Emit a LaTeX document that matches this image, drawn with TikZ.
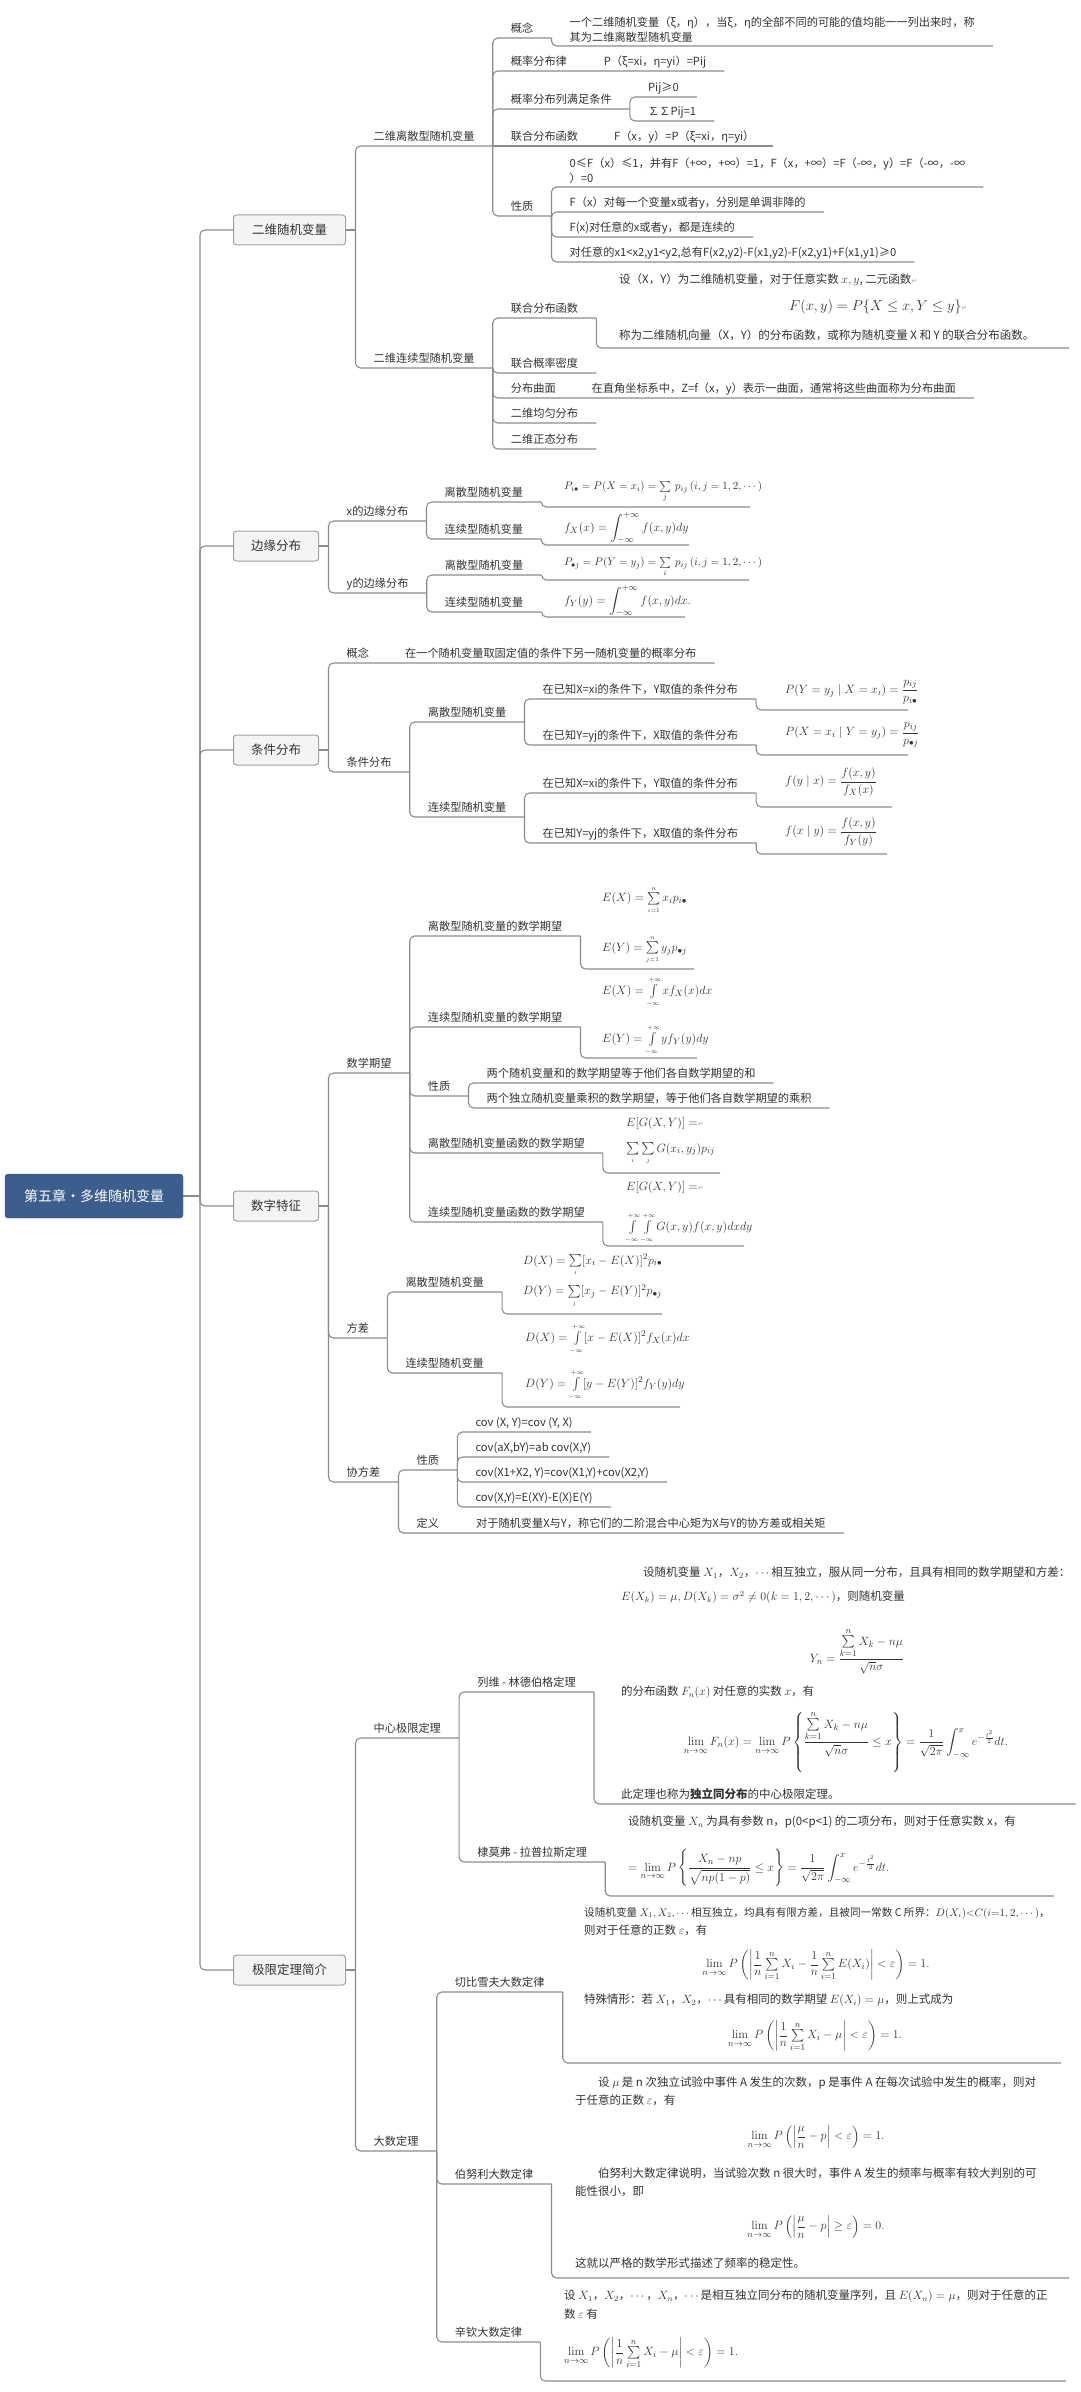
\documentclass[tikz,border=0pt]{standalone}
\usepackage{amsmath,amssymb}
\usepackage[no-math]{fontspec}
\setmainfont{Noto Sans CJK SC}
\newfontfamily\djvfont{DejaVu Sans}
\definecolor{lnc}{HTML}{8C8C8C}
\definecolor{boxd}{HTML}{A0A0A0}
\definecolor{boxf}{HTML}{F4F4F4}
\definecolor{rootc}{HTML}{3B5E8C}
\definecolor{txc}{HTML}{333333}
\newcommand\fLab{\fontsize{11.2}{15}\selectfont}
\newcommand\fCnt{\fontsize{11.5}{15}\selectfont}
\newcommand\fMth{\fontsize{12.5}{15}\selectfont}
\newcommand\fMsm{\fontsize{11}{13}\selectfont}
\newcommand\fBox{\fontsize{12.5}{15}\selectfont}
\newcommand\fRoot{\fontsize{14}{16}\selectfont}
\newcommand\ssl[1]{{\scriptscriptstyle #1}}
\newcommand\parmk{{\djvfont\color{gray!70}\fontsize{7}{7}\selectfont ↵}}
\tikzset{
  ln/.style={draw=lnc, line width=1.1pt, rounded corners=5pt},
  lbl/.style={anchor=south west, inner xsep=18pt, inner ysep=0pt, text height=8pt, text depth=5pt, font=\fLab, text=txc},
  lblm/.style={anchor=south west, inner xsep=18pt, inner ysep=3.5pt, align=left, font=\fLab, text=txc},
  cl/.style={anchor=west, inner sep=0pt, font=\fCnt, text=txc},
  fm/.style={anchor=west, inner sep=0pt, font=\fMth, text=txc},
  fmc/.style={anchor=center, inner sep=0pt, font=\fMth, text=txc},
  l1box/.style={anchor=west, draw=boxd, fill=boxf, rounded corners=3pt, minimum height=30pt, inner sep=0pt, font=\fBox, text=txc, line width=1pt},
  rootnode/.style={fill=rootc, draw=rootc, rounded corners=3pt, minimum width=178pt, minimum height=44pt, inner sep=0pt, text=white, font=\fRoot}
}
\begin{document}
\begin{tikzpicture}[x=1pt,y=-1pt]
\fill[white] (0,0) rectangle (1080,2392);
\useasboundingbox (0,0) rectangle (1080,2392);

% ---------- root and level 1 ----------
\node[rootnode] (root) at (94,1196) {第五章·多维随机变量};
\coordinate (T) at (200,1196);
\node[l1box, minimum width=112pt] (b1) at (233,230) {二维随机变量};
\node[l1box, minimum width=85pt] (b2) at (233,546) {边缘分布};
\node[l1box, minimum width=85pt] (b3) at (233,750) {条件分布};
\node[l1box, minimum width=85pt] (b4) at (233,1206) {数字特征};
\node[l1box, minimum width=112pt] (b5) at (233,1970) {极限定理简介};
\draw[ln] (root.east) -- (T);
\foreach \b in {b1,b2,b3,b4,b5} \draw[ln] (T) |- (\b.west);
\foreach \b in {b1,b2,b3,b4,b5} {
  \coordinate (\b j) at ([xshift=9.5pt]\b.east);
  \draw[ln] (\b.east) -- (\b j);
}

% ---------- branch 1 ----------
\node[lbl] (LD) at (b1j |- 0,146) {二维离散型随机变量};
\node[lbl] (LC) at (b1j |- 0,368) {二维连续型随机变量};
\draw[ln] (b1j) |- (LD.south east);
\draw[ln] (b1j) |- (LC.south east);

\node[lbl] (D1) at (LD.south east |- 0,38) {概念};
\node[lbl] (D2) at (LD.south east |- 0,71) {概率分布律\hspace{37pt}P（ξ=xi，η=yi）=Pij};
\node[lbl] (D3) at (LD.south east |- 0,109) {概率分布列满足条件};
\node[lbl] (D4) at (LD.south east |- 0,146) {联合分布函数\hspace{36pt}F（x，y）=P（ξ=xi，η=yi）};
\node[lbl] (D5) at (LD.south east |- 0,216) {性质};
\foreach \n in {D1,D2,D3,D5} \draw[ln] (LD.south east) |- (\n.south east);
\draw[ln] (LD.south east) -- (D4.south east);

\node[lblm] (D1c) at (D1.south east |- 0,46) {一个二维随机变量（ξ，η），当ξ，η的全部不同的可能的值均能一一列出来时，称\\其为二维离散型随机变量};
\draw[ln] (D1.south east) |- (D1c.south east);

\node[lbl] (D31) at (D3.south east |- 0,97) {Pij≥0};
\node[lbl] (D32) at (D3.south east |- 0,121) {∑∑Pij=1};
\draw[ln] (D3.south east) |- (D31.south east);
\draw[ln] (D3.south east) |- (D32.south east);

\node[lblm] (D51) at (D5.south east |- 0,187) {0≤F（x）≤1，并有F（+∞，+∞）=1，F（x，+∞）=F（-∞，y）=F（-∞，-∞\\）=0};
\node[lbl] (D52) at (D5.south east |- 0,212) {F（x）对每一个变量x或者y，分别是单调非降的};
\node[lbl] (D53) at (D5.south east |- 0,237) {F(x)对任意的x或者y，都是连续的};
\node[lbl] (D54) at (D5.south east |- 0,262) {对任意的x1<x2,y1<y2,总有F(x2,y2)-F(x1,y2)-F(x2,y1)+F(x1,y1)≥0};
\foreach \n in {D51,D52,D53,D54} \draw[ln] (D5.south east) |- (\n.south east);

\node[lbl] (C1) at (LC.south east |- 0,318) {联合分布函数};
\node[lbl] (C2) at (LC.south east |- 0,373) {联合概率密度};
\node[lbl] (C3) at (LC.south east |- 0,398) {分布曲面\hspace{36pt}在直角坐标系中，Z=f（x，y）表示一曲面，通常将这些曲面称为分布曲面};
\node[lbl] (C4) at (LC.south east |- 0,423) {二维均匀分布};
\node[lbl] (C5) at (LC.south east |- 0,449) {二维正态分布};
\foreach \n in {C1,C2,C3,C4,C5} \draw[ln] (LC.south east) |- (\n.south east);

\node[cl] (C1a) at (619,280) {设（X，Y）为二维随机变量，对于任意实数 $x,y$, 二元函数\parmk};
\node[fm, font=\fontsize{14}{16}\selectfont] (C1b) at (789,307) {$F(x,y)=P\{X\le x,Y\le y\}$\parmk};
\node[cl] (C1c) at (619,335) {称为二维随机向量（X，Y）的分布函数，或称为随机变量 X 和 Y 的联合分布函数。};
\coordinate (C1u) at (1069,348);
\draw[ln] (C1.south east) |- (C1u);

% ---------- branch 2 ----------
\node[lbl] (M1) at (b2j |- 0,521) {x的边缘分布};
\node[lbl] (M2) at (b2j |- 0,593) {y的边缘分布};
\draw[ln] (b2j) |- (M1.south east);
\draw[ln] (b2j) |- (M2.south east);
\node[lbl] (M11) at (M1.south east |- 0,502) {离散型随机变量};
\node[lbl] (M12) at (M1.south east |- 0,539) {连续型随机变量};
\node[lbl] (M21) at (M2.south east |- 0,575) {离散型随机变量};
\node[lbl] (M22) at (M2.south east |- 0,612) {连续型随机变量};
\draw[ln] (M1.south east) |- (M11.south east);
\draw[ln] (M1.south east) |- (M12.south east);
\draw[ln] (M2.south east) |- (M21.south east);
\draw[ln] (M2.south east) |- (M22.south east);

\node[fm, font=\fMsm] (M11f) at (564,492) {$P_{i\bullet}=P(X=x_i)=\sum\limits_{j}\ p_{ij}\,(i,j=1,2,\cdots)$};
\node[fm] (M12f) at (564,528) {$f_X(x)=\displaystyle\int_{-\infty}^{+\infty}f(x,y)dy$};
\node[fm, font=\fMsm] (M21f) at (564,567) {$P_{\bullet j}=P(Y=y_j)=\sum\limits_{i}\ p_{ij}\,(i,j=1,2,\cdots)$};
\node[fm] (M22f) at (564,601) {$f_Y(y)=\displaystyle\int_{-\infty}^{+\infty}f(x,y)dx.$};
\coordinate (M11u) at (750,507);
\coordinate (M12u) at (689,545);
\coordinate (M21u) at (749,580);
\coordinate (M22u) at (685,617);
\draw[ln] (M11.south east) |- (M11u);
\draw[ln] (M12.south east) |- (M12u);
\draw[ln] (M21.south east) |- (M21u);
\draw[ln] (M22.south east) |- (M22u);

% ---------- branch 3 ----------
\node[lbl] (K1) at (b3j |- 0,663) {概念\hspace{36pt}在一个随机变量取固定值的条件下另一随机变量的概率分布};
\node[lbl] (K2) at (b3j |- 0,772) {条件分布};
\draw[ln] (b3j) |- (K1.south east);
\draw[ln] (b3j) |- (K2.south east);
\node[lbl] (K21) at (K2.south east |- 0,722) {离散型随机变量};
\node[lbl] (K22) at (K2.south east |- 0,817) {连续型随机变量};
\draw[ln] (K2.south east) |- (K21.south east);
\draw[ln] (K2.south east) |- (K22.south east);
\node[lbl] (K211) at (K21.south east |- 0,699) {在已知X=xi的条件下，Y取值的条件分布};
\node[lbl] (K212) at (K21.south east |- 0,745) {在已知Y=yj的条件下，X取值的条件分布};
\node[lbl] (K221) at (K22.south east |- 0,793) {在已知X=xi的条件下，Y取值的条件分布};
\node[lbl] (K222) at (K22.south east |- 0,843) {在已知Y=yj的条件下，X取值的条件分布};
\draw[ln] (K21.south east) |- (K211.south east);
\draw[ln] (K21.south east) |- (K212.south east);
\draw[ln] (K22.south east) |- (K221.south east);
\draw[ln] (K22.south east) |- (K222.south east);

\node[fm] (K211f) at (785,692) {$P(Y=y_j\mid X=x_i)=\dfrac{p_{ij}}{p_{i\bullet}}$};
\node[fm] (K212f) at (785,735) {$P(X=x_i\mid Y=y_j)=\dfrac{p_{ij}}{p_{\bullet j}}$};
\node[fm] (K221f) at (785,782) {$f(y\mid x)=\dfrac{f(x,y)}{f_X(x)}$};
\node[fm] (K222f) at (785,832) {$f(x\mid y)=\dfrac{f(x,y)}{f_Y(y)}$};
\coordinate (K211u) at (908,710);
\coordinate (K212u) at (908,755);
\coordinate (K221u) at (892,807);
\coordinate (K222u) at (887,854);
\draw[ln] (K211.south east) |- (K211u);
\draw[ln] (K212.south east) |- (K212u);
\draw[ln] (K221.south east) |- (K221u);
\draw[ln] (K222.south east) |- (K222u);

% ---------- branch 4 ----------
\node[lbl] (E1) at (b4j |- 0,1073) {数学期望};
\node[lbl] (E2) at (b4j |- 0,1338) {方差};
\node[lbl] (E3) at (b4j |- 0,1482) {协方差};
\foreach \n in {E1,E2,E3} \draw[ln] (b4j) |- (\n.south east);

\node[lbl] (E11) at (E1.south east |- 0,936) {离散型随机变量的数学期望};
\node[lbl] (E12) at (E1.south east |- 0,1027) {连续型随机变量的数学期望};
\node[lbl] (E13) at (E1.south east |- 0,1096) {性质};
\node[lbl] (E14) at (E1.south east |- 0,1153) {离散型随机变量函数的数学期望};
\node[lbl] (E15) at (E1.south east |- 0,1222) {连续型随机变量函数的数学期望};
\foreach \n in {E11,E12,E13,E14,E15} \draw[ln] (E1.south east) |- (\n.south east);

\node[fm] (E11a) at (602,900) {$E(X)=\sum\limits_{\ssl{i=1}}^{\ssl{n}}x_ip_{i\bullet}$};
\node[fm] (E11b) at (602,950) {$E(Y)=\sum\limits_{\ssl{j=1}}^{\ssl{n}}y_jp_{\bullet j}$};
\node[fm] (E12a) at (602,992) {$E(X)=\int\limits_{\ssl{-\infty}}^{\ssl{+\infty}}xf_X(x)dx$};
\node[fm] (E12b) at (602,1040) {$E(Y)=\int\limits_{\ssl{-\infty}}^{\ssl{+\infty}}yf_Y(y)dy$};
\coordinate (E11u) at (694,969);
\coordinate (E12u) at (697,1058);
\draw[ln] (E11.south east) |- (E11u);
\draw[ln] (E12.south east) |- (E12u);

\node[lbl] (E131) at (E13.south east |- 0,1083) {两个随机变量和的数学期望等于他们各自数学期望的和};
\node[lbl] (E132) at (E13.south east |- 0,1108) {两个独立随机变量乘积的数学期望，等于他们各自数学期望的乘积};
\draw[ln] (E13.south east) |- (E131.south east);
\draw[ln] (E13.south east) |- (E132.south east);

\node[fm] (E14a) at (626,1123) {$E[G(X,Y)]=$\parmk};
\node[fm] (E14b) at (626,1154) {$\sum\limits_{\ssl{i}}\sum\limits_{\ssl{j}}G(x_i,y_j)p_{ij}$};
\node[fm] (E15a) at (626,1187) {$E[G(X,Y)]=$\parmk};
\node[fm] (E15b) at (626,1228) {$\int\limits_{\ssl{-\infty}}^{\ssl{+\infty}}\int\limits_{\ssl{-\infty}}^{\ssl{+\infty}}G(x,y)f(x,y)dxdy$};
\coordinate (E14u) at (720,1173);
\coordinate (E15u) at (744,1246);
\draw[ln] (E14.south east) |- (E14u);
\draw[ln] (E15.south east) |- (E15u);

\node[lbl] (E21) at (E2.south east |- 0,1292) {离散型随机变量};
\node[lbl] (E22) at (E2.south east |- 0,1373) {连续型随机变量};
\draw[ln] (E2.south east) |- (E21.south east);
\draw[ln] (E2.south east) |- (E22.south east);
\node[fm] (E21a) at (523,1265) {$D(X)=\sum\limits_{\ssl{i}}[x_i-E(X)]^2p_{i\bullet}$};
\node[fm] (E21b) at (523,1296) {$D(Y)=\sum\limits_{\ssl{j}}[x_j-E(Y)]^2p_{\bullet j}$};
\node[fm] (E22a) at (525,1339) {$D(X)=\int\limits_{\ssl{-\infty}}^{\ssl{+\infty}}[x-E(X)]^2f_X(x)dx$};
\node[fm] (E22b) at (525,1385) {$D(Y)=\int\limits_{\ssl{-\infty}}^{\ssl{+\infty}}[y-E(Y)]^2f_Y(y)dy$};
\coordinate (E21u) at (662,1314);
\coordinate (E22u) at (680,1407);
\draw[ln] (E21.south east) |- (E21u);
\draw[ln] (E22.south east) |- (E22u);

\node[lbl] (E31) at (E3.south east |- 0,1470) {性质};
\node[lbl] (E32) at (E3.south east |- 0,1533) {定义\hspace{37pt}对于随机变量X与Y，称它们的二阶混合中心矩为X与Y的协方差或相关矩};
\draw[ln] (E3.south east) |- (E31.south east);
\draw[ln] (E3.south east) |- (E32.south east);
\node[lbl] (E311) at (E31.south east |- 0,1432) {cov (X, Y)=cov (Y, X)};
\node[lbl] (E312) at (E31.south east |- 0,1457) {cov(aX,bY)=ab cov(X,Y)};
\node[lbl] (E313) at (E31.south east |- 0,1482) {cov(X1+X2, Y)=cov(X1,Y)+cov(X2,Y)};
\node[lbl] (E314) at (E31.south east |- 0,1507) {cov(X,Y)=E(XY)-E(X)E(Y)};
\foreach \n in {E311,E312,E313,E314} \draw[ln] (E31.south east) |- (\n.south east);

% ---------- branch 5 ----------
\node[lbl] (G1) at (b5j |- 0,1738) {中心极限定理};
\node[lbl] (G2) at (b5j |- 0,2151) {大数定理};
\draw[ln] (b5j) |- (G1.south east);
\draw[ln] (b5j) |- (G2.south east);

\node[lbl] (G11) at (G1.south east |- 0,1692) {列维 - 林德伯格定理};
\node[lbl] (G12) at (G1.south east |- 0,1862) {棣莫弗 - 拉普拉斯定理};
\draw[ln] (G1.south east) |- (G11.south east);
\draw[ln] (G1.south east) |- (G12.south east);

\node[cl] (G11a) at (643,1573) {设随机变量 $X_1$，$X_2$，$\cdots$相互独立，服从同一分布，且具有相同的数学期望和方差：};
\node[cl] (G11b) at (621,1597) {$E(X_k)=\mu,D(X_k)=\sigma^2\neq0(k=1,2,\cdots)$，则随机变量};
\node[fmc] (G11c) at (857,1651) {$Y_n=\dfrac{\sum\limits_{k=1}^{n}X_k-n\mu}{\sqrt{n}\sigma}$};
\node[cl] (G11d) at (621,1692) {的分布函数 $F_n(x)$ 对任意的实数 $x$，有};
\node[fmc] (G11e) at (846,1742) {$\lim\limits_{n\to\infty}F_n(x)=\lim\limits_{n\to\infty}P\left\{\dfrac{\sum\limits_{k=1}^{n}X_k-n\mu}{\sqrt{n}\sigma}\le x\right\}=\dfrac{1}{\sqrt{2\pi}}\displaystyle\int_{-\infty}^{x}e^{-\frac{t^2}{2}}dt.$};
\node[cl] (G11f) at (621,1794) {此定理也称为\textbf{独立同分布}的中心极限定理。};
\coordinate (G11u) at (1076,1804);
\draw[ln] (G11.south east) |- (G11u);

\node[cl] (G12a) at (628,1822) {设随机变量 $X_n$ 为具有参数 n，p(0<p<1) 的二项分布，则对于任意实数 x，有};
\node[fm] (G12b) at (628,1868) {$=\lim\limits_{n\to\infty}P\left\{\dfrac{X_n-np}{\sqrt{np(1-p)}}\le x\right\}=\dfrac{1}{\sqrt{2\pi}}\displaystyle\int_{-\infty}^{x}e^{-\frac{t^2}{2}}dt.$};
\coordinate (G12u) at (1054,1896);
\draw[ln] (G12.south east) |- (G12u);

\node[lbl] (G21) at (G2.south east |- 0,1992) {切比雪夫大数定律};
\node[lbl] (G22) at (G2.south east |- 0,2184) {伯努利大数定律};
\node[lbl] (G23) at (G2.south east |- 0,2342) {辛钦大数定律};
\foreach \n in {G21,G22,G23} \draw[ln] (G2.south east) |- (\n.south east);

\node[cl, font=\fontsize{10.6}{13}\selectfont] (G21a) at (584,1913) {设随机变量 $X_1,X_2,\cdots$相互独立，均具有有限方差，且被同一常数 C 所界：$D(X_i){<}C(i{=}1,2,\cdots)$，};
\node[cl] (G21b) at (584,1930) {则对于任意的正数 $\varepsilon$，有};
\node[fmc] (G21c) at (816,1965) {$\lim\limits_{n\to\infty}P\left(\left|\dfrac{1}{n}\sum\limits_{i=1}^{n}X_i-\dfrac{1}{n}\sum\limits_{i=1}^{n}E(X_i)\right|<\varepsilon\right)=1.$};
\node[cl] (G21d) at (584,2000) {特殊情形：若 $X_1$，$X_2$，$\cdots$具有相同的数学期望 $E(X_i)=\mu$，则上式成为};
\node[fmc] (G21e) at (815,2036) {$\lim\limits_{n\to\infty}P\left(\left|\dfrac{1}{n}\sum\limits_{i=1}^{n}X_i-\mu\right|<\varepsilon\right)=1.$};
\coordinate (G21u) at (1061,2063);
\draw[ln] (G21.south east) |- (G21u);

\node[cl] (G22a) at (598,2083) {设 $\mu$ 是 n 次独立试验中事件 A 发生的次数，p 是事件 A 在每次试验中发生的概率，则对};
\node[cl] (G22b) at (575,2100) {于任意的正数 $\varepsilon$，有};
\node[fmc] (G22c) at (816,2137) {$\lim\limits_{n\to\infty}P\left(\left|\dfrac{\mu}{n}-p\right|<\varepsilon\right)=1.$};
\node[cl] (G22d) at (598,2173) {伯努利大数定律说明，当试验次数 n 很大时，事件 A 发生的频率与概率有较大判别的可};
\node[cl] (G22e) at (575,2191) {能性很小，即};
\node[fmc] (G22f) at (816,2227) {$\lim\limits_{n\to\infty}P\left(\left|\dfrac{\mu}{n}-p\right|\ge\varepsilon\right)=0.$};
\node[cl] (G22g) at (575,2263) {这就以严格的数学形式描述了频率的稳定性。};
\coordinate (G22u) at (1069,2278);
\draw[ln] (G22.south east) |- (G22u);

\node[cl] (G23a) at (564,2296) {设 $X_1$，$X_2$，$\cdots$，$X_n$，$\cdots$是相互独立同分布的随机变量序列，且 $E(X_n)=\mu$，则对于任意的正};
\node[cl] (G23b) at (564,2314) {数 $\varepsilon$ 有};
\node[fm] (G23c) at (564,2353) {$\lim\limits_{n\to\infty}P\left(\left|\dfrac{1}{n}\sum\limits_{i=1}^{n}X_i-\mu\right|<\varepsilon\right)=1.$};
\coordinate (G23u) at (1066,2381);
\draw[ln] (G23.south east) |- (G23u);
\end{tikzpicture}
\end{document}
